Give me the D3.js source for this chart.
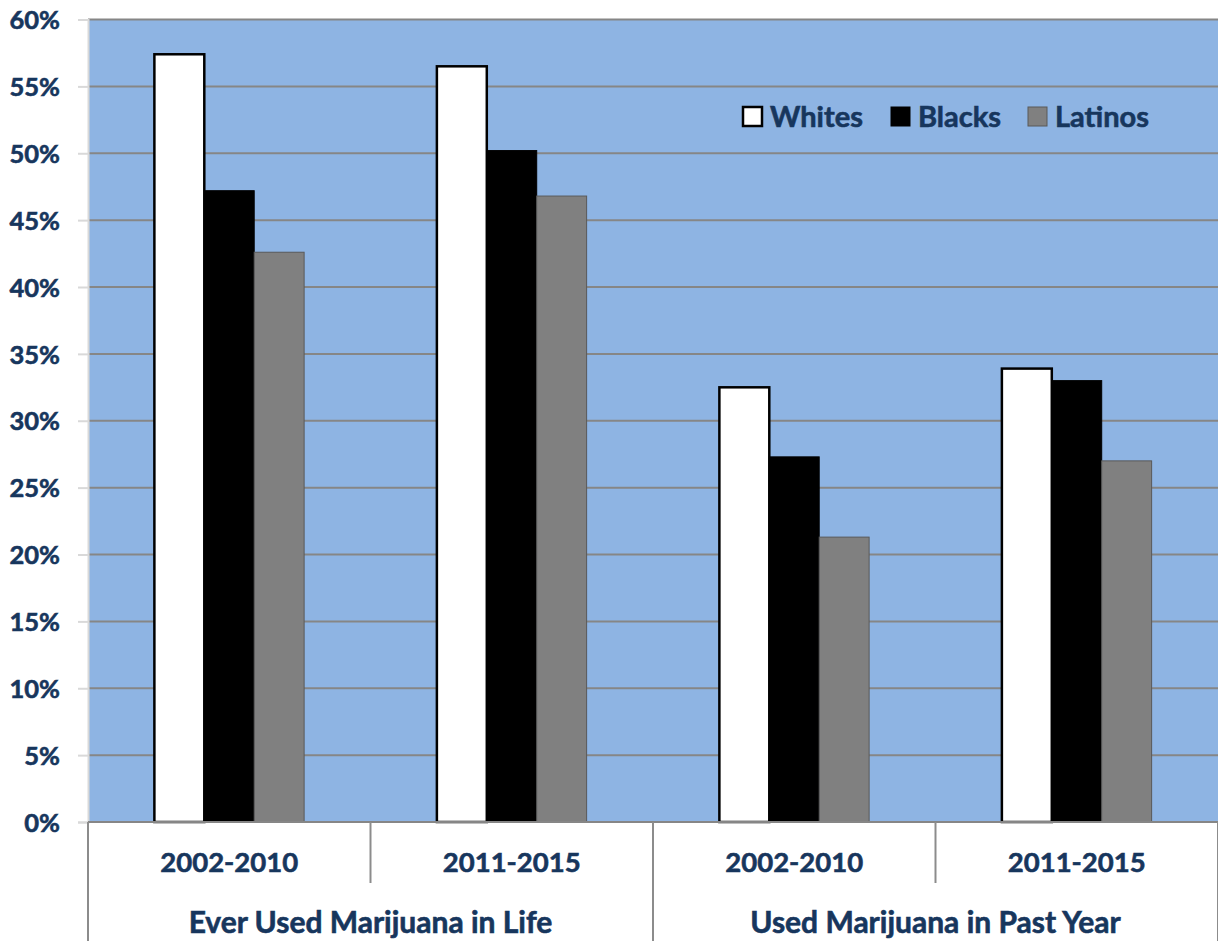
<!DOCTYPE html>
<html><head><meta charset="utf-8">
<script src="https://cdn.jsdelivr.net/npm/d3@7"></script>
<style>body{margin:0;background:#fff}svg{display:block}</style>
</head><body>
<script>
const groups = ["Ever Used Marijuana in Life", "Used Marijuana in Past Year"];
const periods = ["2002-2010", "2011-2015"];
const seriesNames = ["Whites", "Blacks", "Latinos"];
const whites = [57.4, 56.5, 32.5, 33.9];
const blacks = [47.2, 50.2, 27.3, 33.0];
const latinos = [42.6, 46.8, 21.3, 27.0];
const yTicks = [0, 5, 10, 15, 20, 25, 30, 35, 40, 45, 50, 55, 60];

const W = 1218, H = 941;
const m = {left: 88, right: 0, top: 19.5, bottom: 119};
const svg = d3.select("body").append("svg").attr("width", W).attr("height", H);
const font = "Lato, 'Open Sans', sans-serif";
const txt = "#17365D";

const cats = [];
groups.forEach((g, gi) => periods.forEach((p, pi) => cats.push({g, p, gi, pi, key: gi + "|" + p})));

const x = d3.scaleBand().domain(cats.map(c => c.key)).range([m.left, W - m.right]).paddingInner(0).paddingOuter(0);
const y = d3.scaleLinear().domain([0, 60]).range([H - m.bottom, m.top]);
const inner = d3.scaleBand().domain(seriesNames).range([0, x.bandwidth()]).paddingInner(0).paddingOuter(1.33);

const colors = {Whites: "#ffffff", Blacks: "#000000", Latinos: "#808080"};
const strokes = {Whites: "#000000", Blacks: "#000000", Latinos: "#595959"};
const sw = {Whites: 2.5, Blacks: 1, Latinos: 1};
const seriesVals = {Whites: whites, Blacks: blacks, Latinos: latinos};

function boldText(sel, size) {
  sel.attr("fill", txt).attr("font-family", font).attr("font-weight", "bold").attr("font-size", size)
     .attr("stroke", txt).attr("stroke-width", 0.6);
}

// plot background
svg.append("rect").attr("x", m.left).attr("y", y(60)).attr("width", W - m.right - m.left).attr("height", y(0) - y(60)).attr("fill", "#8EB4E3");

// gridlines
svg.append("g").selectAll("line").data(yTicks).join("line")
  .attr("x1", m.left).attr("x2", W).attr("y1", d => y(d)).attr("y2", d => y(d))
  .attr("stroke", "#868686").attr("stroke-width", 2);

// y axis
const yAxis = d3.axisLeft(y).tickValues(yTicks).tickFormat(d => d + "%").tickSize(10).tickPadding(18);
const ya = svg.append("g").attr("transform", `translate(${m.left},0)`).call(yAxis);
ya.select(".domain").attr("stroke", "#d9d9d9").attr("stroke-width", 2);
ya.selectAll(".tick line").attr("stroke", "#d9d9d9").attr("stroke-width", 2);
ya.selectAll("text").call(boldText, 25.5).attr("dy", "0.36em");

// bars
seriesNames.forEach(s => {
  svg.append("g").selectAll("rect").data(cats).join("rect")
    .attr("x", c => x(c.key) + inner(s))
    .attr("width", inner.bandwidth())
    .attr("y", (c, i) => y(seriesVals[s][i]))
    .attr("height", (c, i) => y(0) - y(seriesVals[s][i]))
    .attr("fill", colors[s]).attr("stroke", strokes[s]).attr("stroke-width", sw[s]);
});

// baseline
svg.append("line").attr("x1", m.left).attr("x2", W).attr("y1", y(0)).attr("y2", y(0)).attr("stroke", "#868686").attr("stroke-width", 2);

// category axis separators
const y0 = y(0);
const bounds = [m.left];
cats.forEach(c => bounds.push(x(c.key) + x.bandwidth()));
svg.append("g").selectAll("line").data(bounds).join("line")
  .attr("x1", d => d).attr("x2", d => d).attr("y1", y0)
  .attr("y2", (d, i) => (i % 2 === 0 ? H : 883))
  .attr("stroke", "#8c8c8c").attr("stroke-width", 2);

// period labels
svg.append("g").selectAll("text").data(cats).join("text")
  .attr("x", c => x(c.key) + x.bandwidth() / 2).attr("y", 872)
  .attr("text-anchor", "middle").call(boldText, 27.5)
  .text(c => c.p);

// group labels
svg.append("g").selectAll("text").data(groups).join("text")
  .attr("x", (g, gi) => x(gi + "|" + periods[0]) + x.bandwidth())
  .attr("y", 933)
  .attr("text-anchor", "middle").call(boldText, 30)
  .text(g => g);

// legend
const legX = [743, 891, 1028];
const lg = svg.append("g").selectAll("g").data(seriesNames).join("g")
  .attr("transform", (d, i) => `translate(${legX[i]},107)`);
lg.append("rect").attr("width", 19).attr("height", 19)
  .attr("fill", d => colors[d]).attr("stroke", d => d === "Latinos" ? "#595959" : "#000").attr("stroke-width", d => d === "Whites" ? 2.5 : 1);
lg.append("text").attr("x", 27).attr("y", 20).call(boldText, 29).text(d => d);
</script>
</body></html>
